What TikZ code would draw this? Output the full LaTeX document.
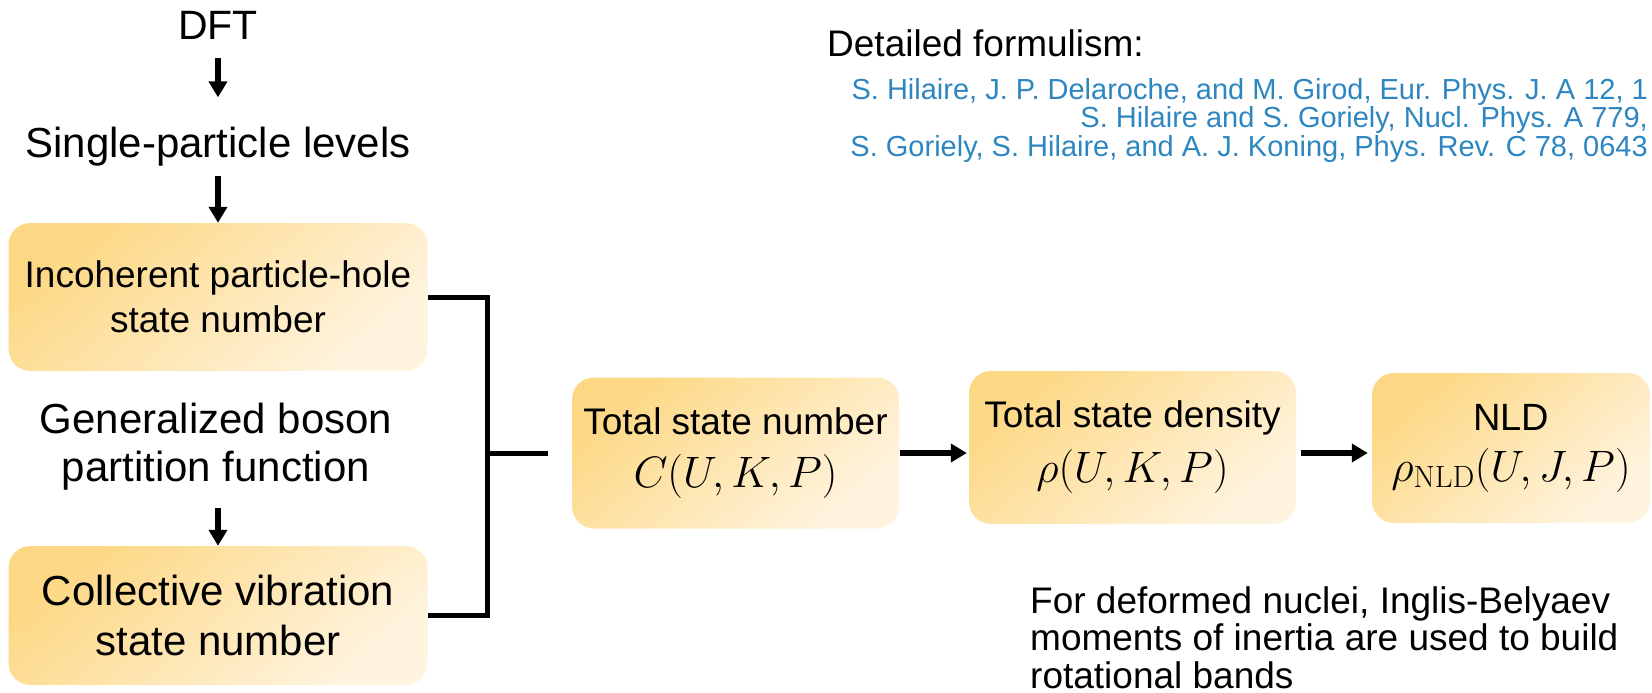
\RequirePackage{fix-cm}
\documentclass[tikz,border=0pt]{standalone}
\usepackage[no-math]{fontspec}
\setmainfont{Liberation Sans}
\usepackage{tikz}
\usetikzlibrary{arrows.meta}
\definecolor{Gold}{RGB}{253,216,132}
\definecolor{Gold1}{RGB}{255,244,224}
\definecolor{RefBlue}{RGB}{46,134,193}
\newcommand{\fsz}[2]{\fontsize{#1}{#2}\selectfont}
\tikzset{
  stage/.style={rounded corners=22pt, top color=Gold, bottom color=Gold1,
                middle color=Gold!50!Gold1, shading angle=40, inner sep=0pt, align=center},
  lbl/.style={inner sep=0pt, align=center},
  flow/.style={line width=6pt, -{Triangle[length=16pt,width=18pt]}},
  forkline/.style={line width=5pt}
}

\begin{document}
\begin{tikzpicture}[x=1pt, y=-1pt]
    \useasboundingbox (0,0) rectangle (1652,693);
    % left column
    \node[lbl, anchor=base, font=\fsz{41}{48}] (dft) at (218,40) {DFT};
    \node[lbl, anchor=base, font=\fsz{42}{48}] (spl) at (218,157) {Single-particle levels};
    \node[stage, minimum width=419pt, minimum height=148pt, font=\fsz{37}{45}]
        (inc) at (218,297) {Incoherent particle-hole\\state number};
    \node[lbl, font=\fsz{42}{48}] (gbp) at (216,447) {Generalized boson\\partition function};
    \node[stage, minimum width=419pt, minimum height=139pt, font=\fsz{42}{50}]
        (coll) at (218,615.5) {Collective vibration\\state number};

    \draw[flow, shorten <=18pt, shorten >=29pt] (dft.south) -- (spl.north);
    \draw[flow, shorten <=10pt] (spl.south) -- (inc.north);
    \draw[flow, shorten <=17pt] (coll.north |- gbp.south) -- (coll.north);

    % chain of densities
    \node[stage, minimum width=327pt, minimum height=151pt, font=\fsz{37}{53}]
        (tsn) at (735.5,453) {Total state number\\\fsz{44}{53}$C(U,K,P)$};
    \node[stage, minimum width=327pt, minimum height=153pt, font=\fsz{37}{55}]
        (tsd) at (1132.5,447.5) {Total state density\\\fsz{44}{55}$\rho(U,K,P)$};
    \node[stage, minimum width=278pt, minimum height=150pt, font=\fsz{38}{51}]
        (nld) at (1511,448) {NLD\\\fsz{44}{51}$\rho_{\mathrm{NLD}}(U,J,P)$};

    \coordinate (fork) at (487,453);
    \draw[forkline] (inc.east) -| (fork) |- (coll.east);
    \draw[forkline, shorten >=24pt] (fork) -- (tsn.west);

    \draw[flow, shorten <=1pt, shorten >=2pt] (tsn.east) -- (tsn.east -| tsd.west);
    \draw[flow, shorten <=5pt, shorten >=4pt] (tsn.east -| tsd.east) -- (tsn.east -| nld.west);

    % references and remark
    \node[lbl, anchor=base west, font=\fsz{37}{45}] (formal) at (827,57) {Detailed formulism:};
    \node[lbl, anchor=north east, align=right, text=RefBlue, font=\fsz{29}{28.5}] (refs) at (1648,78)
        {S. Hilaire, J. P. Delaroche, and M. Girod, Eur. Phys. J. A 12, 1\\
         S. Hilaire and S. Goriely, Nucl. Phys. A 779,\\
         S. Goriely, S. Hilaire, and A. J. Koning, Phys. Rev. C 78, 0643};
    \node[lbl, anchor=north west, align=left, font=\fsz{37}{37.5}] (note) at (1030,586)
        {For deformed nuclei, Inglis-Belyaev\\moments of inertia are used to build\\rotational bands};
\end{tikzpicture}
\end{document}
